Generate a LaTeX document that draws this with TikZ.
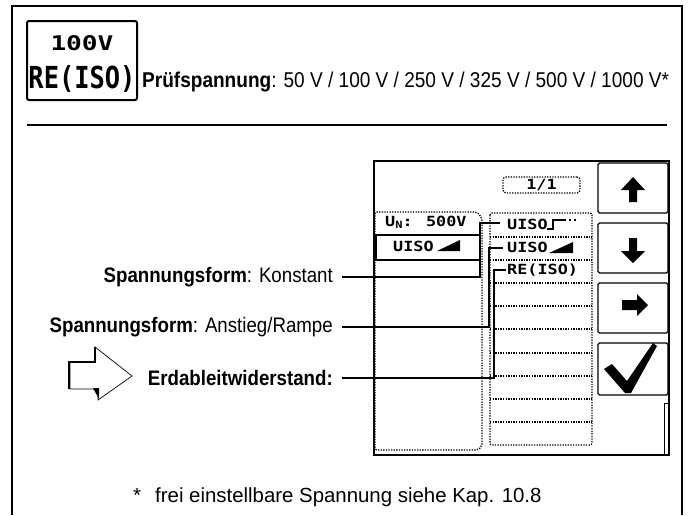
\documentclass[tikz,border=0pt]{standalone}
\usepackage{fontspec}
\usepackage{graphicx}
\setmainfont{Liberation Sans}
\newfontfamily\cond[FakeStretch=0.89]{Liberation Sans}
\newfontfamily\lcdfont{DejaVu Sans Mono}
\newcommand{\lcdt}[1]{\scalebox{1.2}[1]{\lcdfont\bfseries\fontsize{14}{14}\selectfont #1}}
\tikzset{
  frameline/.style={line width=2pt},
  lbl/.style={font=\cond\fontsize{21}{24}\selectfont, anchor=east, inner sep=0pt},
  conn/.style={line width=2.7pt},
  dotline/.style={line width=1.3pt, dash pattern=on 1.3pt off 1.3pt},
  btn/.style={draw, line width=1.3pt, rounded corners=1.5pt},
  lcdtxt/.style={inner sep=0pt},
}
\begin{document}
\begin{tikzpicture}[x=1pt,y=-1pt]
\useasboundingbox (0,0) rectangle (689,515);
% outer frame
\draw[frameline] (12,515) -- (12,6) -- (682,6) -- (682,515);
% top display box
\node[draw, line width=2pt, rounded corners=2pt, minimum width=110pt, minimum height=79pt, inner sep=0pt] (disp) at (82,60.5) {};
\node[lcdtxt] (v100) at (82,43) {\resizebox{63pt}{15pt}{\lcdfont\bfseries 100V}};
\node[lcdtxt] (reiso) at (82,79) {\resizebox{107pt}{23pt}{\lcdfont\bfseries RE(ISO)}};
\node[anchor=base west, inner sep=0pt, font=\cond\fontsize{21.4}{24}\selectfont] (pruef) at (142,87)
  {\textbf{Prüfspannung}: 50 V / 100 V / 250 V / 325 V / 500 V / 1000 V*};
% separator
\draw[line width=2.7pt] (27,125) -- (667,125);

% screen
\node[draw, line width=1.5pt, minimum width=295pt, minimum height=294pt, inner sep=0pt] (screen) at (521.5,308) {};
% page box
\node[draw, dotline, rounded corners=3pt, minimum width=77pt, minimum height=16pt, inner sep=0pt] (page) at (541.5,185) {};
\node[lcdtxt] (pagetxt) at (541.5,185) {\lcdt{1/1}};
% left panel
\draw[dotline, rounded corners=2pt] (375,450) -- (375,212) -- (477,212) -- (482,218) -- (482,446) -- (478,450) -- cycle;
\node[lcdtxt, anchor=west] (un) at (385,222) {\lcdt{U\raisebox{-2pt}{\fontsize{10}{10}\selectfont N}: 500V}};
\node[draw, line width=2.8pt, minimum width=104pt, minimum height=25pt, inner sep=0pt] (sel) at (428,247.5) {};
\node[lcdtxt, anchor=west] (seltxt) at (393,246) {\lcdt{UISO}};
\fill (437,251) -- (460,251) -- (460,240) -- cycle;
% right panel
\draw[dotline, rounded corners=2pt] (490,213) rectangle (592,445);
\foreach \yy in {237,260,283,306,329,353,376,399,422}
  \draw[dotline] (490,\yy) -- (592,\yy);
\node[lcdtxt, anchor=west] (row1) at (507,224) {\lcdt{UISO}};
\draw[line width=2pt] (547,229) -- (553,229) -- (553,220) -- (566,220);
\fill (569,219) rectangle (571,221);
\fill (574,219) rectangle (576,221);
\node[lcdtxt, anchor=west] (row2) at (507,247) {\lcdt{UISO}};
\fill (549,253) -- (573,253) -- (573,242) -- cycle;
\node[lcdtxt, anchor=west] (row3) at (507,270) {\lcdt{RE(ISO)}};

% buttons
\node[btn, minimum width=70pt, minimum height=50pt, inner sep=0pt] (bup) at (633,188) {};
\node[btn, minimum width=70pt, minimum height=50pt, inner sep=0pt] (bdown) at (633,248) {};
\node[btn, minimum width=70pt, minimum height=50pt, inner sep=0pt] (bright) at (633,308) {};
\node[btn, minimum width=70pt, minimum height=52pt, inner sep=0pt] (bok) at (633,369) {};
\fill (633,177) -- (645,190) -- (637,190) -- (637,202) -- (629,202) -- (629,190) -- (621,190) -- cycle;
\fill (633,263) -- (645,251) -- (637,251) -- (637,238) -- (629,238) -- (629,251) -- (621,251) -- cycle;
\fill (648,305) -- (637,294) -- (637,300) -- (622,300) -- (622,310) -- (637,310) -- (637,316) -- cycle;
\fill (604,369) -- (612,364) -- (627,381) -- (653,343) -- (657,346) -- (631,393) -- (625,393) -- cycle;
\node[draw, line width=1pt, minimum width=4pt, minimum height=52pt, inner sep=0pt] (scroll) at (666,429) {};

% labels
\node[lbl] (konst) at (333,277) {\textbf{Spannungsform}: Konstant};
\node[lbl] (anst) at (333,327) {\textbf{Spannungsform}: Anstieg/Rampe};
\node[lbl] (erd) at (333,378) {\textbf{Erdableitwiderstand:}};
\coordinate (kA) at (342,277);
\coordinate (aA) at (342,327);
\coordinate (eA) at (342,378);
\coordinate (t1) at (500,223);
\coordinate (t2) at (503,248);
\coordinate (t3) at (506,270);
\draw[conn] (kA) -- (480,277) |- (t1);
\draw[conn] (aA) -- (489,327) |- (t2);
\draw[conn] (eA) -- (494,378) |- (t3);

% hint arrow icon
\draw[line width=0.7pt] (70,362) -- (95,362) -- (95,347) -- (132,376) -- (98,400) -- (98,389) -- (70,389) -- cycle;
\draw[line width=2.6pt] (69,389) -- (69,362) -- (95,362) -- (95,347);
\fill (93,388) -- (99,388) -- (99,399) -- cycle;

% footnote
\node[anchor=base west, inner sep=0pt, font=\fontsize{20.4}{24}\selectfont] (star) at (133,502) {*};
\node[anchor=base west, inner sep=0pt, font=\fontsize{20.4}{24}\selectfont] (foot) at (155,502) {frei einstellbare Spannung siehe Kap. 10.8};
\end{tikzpicture}
\end{document}
